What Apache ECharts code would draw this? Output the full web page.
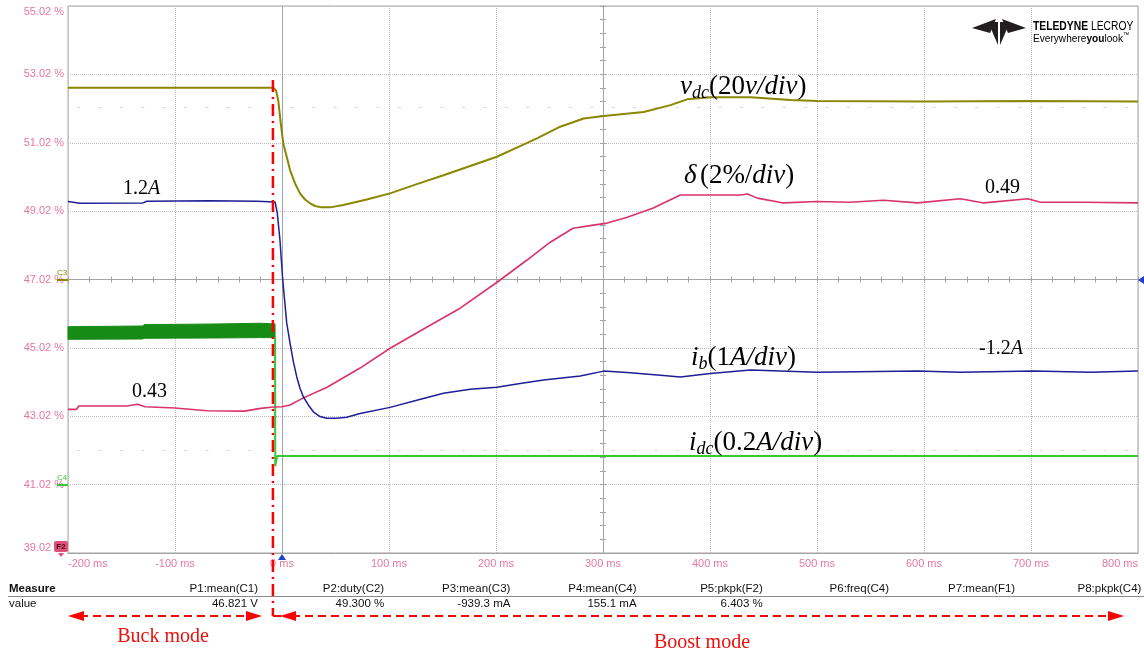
<!DOCTYPE html>
<html><head><meta charset="utf-8">
<script src="https://cdn.jsdelivr.net/npm/echarts@6/dist/echarts.min.js"></script>
<style>html,body{margin:0;padding:0;background:#fff}#c{width:1144px;height:654px}</style>
</head><body><div id="c"></div>
<script>
// ---- tick labels ----
const xTickLabels = ['-200 ms','-100 ms','0 ms','100 ms','200 ms','300 ms','400 ms','500 ms','600 ms','700 ms','800 ms'];
const yTickLabels = ['39.02 %','41.02 %','43.02 %','45.02 %','47.02 %','49.02 %','51.02 %','53.02 %','55.02 %'];

// ---- v_dc trace (time ms, screen %) ----
const vdcT = [-200,-8.1,-5.6,-3.5,-1.2,1.2,4.4,7.5,12.2,16.8,21.5,26.2,30.9,37.1,44.9,57.3,79.2,101,126,150.9,175.9,200.8,219.5,238.3,260,281.9,300.6,338,363,378.6,400.4,437.8,475.2,500.5,600,700,800];
const vdcV = [52.63,52.63,52.55,52.26,51.60,51.00,50.61,50.22,49.83,49.54,49.36,49.25,49.17,49.13,49.13,49.20,49.36,49.54,49.81,50.07,50.34,50.61,50.88,51.15,51.49,51.73,51.80,51.92,52.12,52.29,52.35,52.35,52.27,52.24,52.23,52.24,52.23];

// ---- duty ratio delta trace ----
const deltaT = [-200,-192,-190,-145,-135,-128,-100,-70,-35,-20,-8,0,7.5,19.6,42.1,73,101,135.6,166.5,201,229,250.7,272,291,304,322.7,347,372.3,400.4,428.4,435,444.3,468.7,500,531,562,594,634,656,697,709,749,800];
const deltaV = [43.22,43.22,43.32,43.32,43.37,43.30,43.26,43.18,43.17,43.25,43.29,43.30,43.35,43.55,43.87,44.43,45.01,45.63,46.18,46.94,47.59,48.11,48.52,48.61,48.67,48.84,49.11,49.49,49.49,49.49,49.52,49.40,49.26,49.30,49.28,49.34,49.26,49.38,49.26,49.38,49.28,49.28,49.26];

// ---- i_b trace ----
const ibT = [-200,-189,-130,-126.3,-67.4,-23.4,-6.5,-4.4,-1.9,0.7,4.4,7.5,10.6,13.8,16.8,19.9,24.6,29.3,35.5,41.8,51.2,60.5,73,101,126,150.9,175.9,200.8,222.6,244.4,278.8,300.6,322.4,353.6,372.3,400.4,437.8,500.5,594,634,702.5,755.8,800];
const ibV = [49.30,49.25,49.26,49.31,49.32,49.31,49.29,48.96,48.17,47.00,45.75,45.16,44.62,44.17,43.84,43.59,43.35,43.15,43.01,42.96,42.96,42.99,43.10,43.28,43.49,43.69,43.81,43.87,43.98,44.08,44.20,44.34,44.30,44.22,44.17,44.27,44.37,44.31,44.34,44.31,44.34,44.31,44.34];

// ---- i_dc trace: buck-mode ripple envelope, then boost-mode line ----
const idcBandT = [-200,-130,-129,-60,-20,-6.5];
const idcBandLow = [45.27,45.28,45.30,45.31,45.32,45.32];
const idcBandHigh = [45.64,45.66,45.70,45.72,45.74,45.72];
const idcT = [-6.5,-6.3,-4.5,800];
const idcV = [45.32,41.56,41.86,41.86];

// ---- reference-level dotted rows (screen %) ----
const refRows = [52.06, 42.03];
// ---- mode change instant (ms) ----
const modeChangeT = -8.5;

// ---- measurement table ----
const measureNames = ['P1:mean(C1)','P2:duty(C2)','P3:mean(C3)','P4:mean(C4)','P5:pkpk(F2)','P6:freq(C4)','P7:mean(F1)','P8:pkpk(C4)'];
const measureValues = ['46.821 V','49.300 %','-939.3 mA','155.1 mA','6.403 %','','',''];

const toDiv = v => (v - 39.02) / 2;
const pts = (T, V) => T.map((t, i) => [t, toDiv(V[i])]);

const PINK = '#e6799d';
const GRIDC = '#bdbdbd';
const AXC = '#a4a4a4';
const SANS = 'Liberation Sans, Arial, sans-serif';
const SERIF = 'Liberation Serif, Times New Roman, serif';

const chart = echarts.init(document.getElementById('c'));

const centerX = {type:'value', min:-200, max:800, interval:20, position:'bottom', offset:-273.5,
  axisLine:{show:true, lineStyle:{color:AXC, width:1}}, axisLabel:{show:false}, splitLine:{show:false}};
const centerY = {type:'value', min:0, max:8, interval:0.2, position:'left', offset:-535,
  axisLine:{show:true, lineStyle:{color:AXC, width:1}}, axisLabel:{show:false}, splitLine:{show:false}};

const option = {
  animation:false,
  backgroundColor:'#ffffff',
  grid:{left:68, right:6, top:6, bottom:101, show:true, borderColor:AXC, borderWidth:1},
  xAxis:[
    {type:'value', min:-200, max:800, interval:100,
      axisLine:{lineStyle:{color:AXC}}, axisTick:{show:false},
      splitLine:{show:true, lineStyle:{color:GRIDC, type:'dotted'}},
      axisLabel:{color:PINK, fontSize:11, fontFamily:SANS, margin:5,
        alignMinLabel:'left', alignMaxLabel:'right',
        formatter:v => xTickLabels[Math.round((v + 200) / 100)]}},
    Object.assign({}, centerX, {axisTick:{show:true, inside:false, length:3, lineStyle:{color:AXC}}}),
    Object.assign({}, centerX, {axisTick:{show:true, inside:true, length:3, lineStyle:{color:AXC}}})
  ],
  yAxis:[
    {type:'value', min:0, max:8, interval:1,
      axisLine:{show:true, lineStyle:{color:AXC}}, axisTick:{show:false},
      splitLine:{show:true, lineStyle:{color:GRIDC, type:'dotted'}},
      axisLabel:{color:PINK, fontSize:11, fontFamily:SANS, margin:4,
        verticalAlignMaxLabel:'top', verticalAlignMinLabel:'bottom',
        formatter:v => yTickLabels[Math.round(v)]}},
    Object.assign({}, centerY, {axisTick:{show:true, inside:false, length:3, lineStyle:{color:AXC}}}),
    Object.assign({}, centerY, {axisTick:{show:true, inside:true, length:3, lineStyle:{color:AXC}}})
  ],
  series:[
    {name:'idcBand', type:'custom', data:[[0, 0]], silent:true, z:3,
      renderItem:(params, api) => {
        const top = idcBandT.map((t, i) => api.coord([t, toDiv(idcBandHigh[i])]));
        const bot = idcBandT.map((t, i) => api.coord([t, toDiv(idcBandLow[i])])).reverse();
        return {type:'polygon', shape:{points:top.concat(bot)}, style:{fill:'#168c16', stroke:'#168c16', lineWidth:1}};
      }},
    {name:'idc', type:'line', data:pts(idcT, idcV), symbol:'none',
      lineStyle:{width:2, color:'#36c836'}, z:3,
      markLine:{silent:true, symbol:'none', label:{show:false},
        lineStyle:{color:'#d6d6d6', width:1, type:[3,18.38], dashOffset:-9.2},
        data:refRows.map(r => ({yAxis:toDiv(r)}))}},
    {name:'delta', type:'line', data:pts(deltaT, deltaV), symbol:'none',
      lineStyle:{width:1.6, color:'#d8336a'}, z:4},
    {name:'ib', type:'line', data:pts(ibT, ibV), symbol:'none',
      lineStyle:{width:1.5, color:'#1e1e96'}, z:5},
    {name:'vdc', type:'line', data:pts(vdcT, vdcV), symbol:'none',
      lineStyle:{width:2, color:'#8a8700'}, z:6}
  ]
};
chart.setOption(option);

// ----- annotations (graphic) -----
const px = chart.convertToPixel({xAxisIndex:0}, modeChangeT);
const RED = '#ff0000';
const G = [];
const txt = (x, y, text, opts) => G.push(Object.assign({type:'text', x:x, y:y, z:100,
  style:Object.assign({text:text, fill:'#111', font:'11px ' + SANS, align:'left', verticalAlign:'middle',
    textAlign:'left', textVerticalAlign:'middle'}, opts || {})}));

// measure table
txt(9, 589, 'Measure', {font:'bold 11.5px ' + SANS});
txt(9, 604, 'value', {font:'11.5px ' + SANS});
G.push({type:'line', z:100, shape:{x1:8, y1:596.5, x2:1144, y2:596.5}, style:{stroke:'#8a8a8a', lineWidth:1}});
measureNames.forEach((n, i) => {
  const xr = 258 + i * 126.2;
  txt(xr, 589, n, {align:'right', textAlign:'right', font:'11.5px ' + SANS});
  if (measureValues[i]) txt(xr, 604, measureValues[i], {align:'right', textAlign:'right', font:'11.5px ' + SANS});
});

// mode arrows
const AY = 616;
G.push({type:'line', z:110, shape:{x1:px, y1:80, x2:px, y2:AY}, style:{stroke:RED, lineWidth:2.5, lineDash:[12,5,2,5]}});
G.push({type:'line', z:110, shape:{x1:px, y1:AY, x2:281, y2:AY}, style:{stroke:RED, lineWidth:2}});
const arrow = (x1, x2) => {
  G.push({type:'line', z:110, shape:{x1:x1 + 12, y1:AY, x2:x2 - 12, y2:AY}, style:{stroke:RED, lineWidth:2, lineDash:[8,5]}});
  G.push({type:'polygon', z:110, shape:{points:[[x1, AY], [x1 + 16, AY - 5], [x1 + 16, AY + 5]]}, style:{fill:RED}});
  G.push({type:'polygon', z:110, shape:{points:[[x2, AY], [x2 - 16, AY - 5], [x2 - 16, AY + 5]]}, style:{fill:RED}});
};
arrow(68, 262);
arrow(280, 1124);
txt(163, 637, 'Buck mode', {fill:'#e8120e', font:'20px ' + SERIF, align:'center', textAlign:'center'});
txt(702, 643, 'Boost mode', {fill:'#e8120e', font:'20px ' + SERIF, align:'center', textAlign:'center'});

// trace annotations
const rich = {
  i:{fontFamily:SERIF, fontStyle:'italic', fontSize:27, lineHeight:31, color:'#111'},
  n:{fontFamily:SERIF, fontSize:27, lineHeight:31, color:'#111'},
  s:{fontFamily:SERIF, fontStyle:'italic', fontSize:18, lineHeight:13, verticalAlign:'bottom', color:'#111'},
  i2:{fontFamily:SERIF, fontStyle:'italic', fontSize:20, lineHeight:24, color:'#111'},
  n2:{fontFamily:SERIF, fontSize:20, lineHeight:24, color:'#111'}
};
const rtxt = (x, y, text) => G.push({type:'text', x:x, y:y, z:100,
  style:{text:text, rich:rich, align:'left', verticalAlign:'middle', textAlign:'left', textVerticalAlign:'middle'}});
rtxt(680, 87, '{i|v}{s|dc}{n|(20}{i|v/div}{n|)}');
rtxt(684, 176, '{i|δ} {n|(2%/}{i|div}{n|)}');
rtxt(691, 358, '{i|i}{s|b}{n|(1}{i|A/div}{n|)}');
rtxt(689, 443, '{i|i}{s|dc}{n|(0.2}{i|A/div}{n|)}');
rtxt(123, 189, '{n2|1.2}{i2|A}');
rtxt(132, 392, '{n2|0.43}');
rtxt(985, 188, '{n2|0.49}');
rtxt(979, 349, '{n2|-1.2}{i2|A}');

// channel markers
txt(57, 273, 'C3', {fill:'#8a8700', font:'8px ' + SANS});
G.push({type:'line', z:100, shape:{x1:57, y1:280, x2:68, y2:280}, style:{stroke:'#8a8700', lineWidth:2}});
txt(57, 478, 'C4', {fill:'#36c836', font:'8px ' + SANS});
G.push({type:'line', z:100, shape:{x1:57, y1:485, x2:68, y2:485}, style:{stroke:'#36c836', lineWidth:2}});
G.push({type:'rect', z:100, shape:{x:54, y:541, width:14, height:11, r:2}, style:{fill:'#e0507a'}});
txt(61, 546.5, 'F2', {fill:'#3a0012', font:'bold 8px ' + SANS, align:'center', textAlign:'center'});
G.push({type:'polygon', z:100, shape:{points:[[58,553],[64,553],[61,557]]}, style:{fill:'#e0507a'}});
G.push({type:'polygon', z:100, shape:{points:[[1138,280],[1144,276],[1144,284]]}, style:{fill:'#1a3cd0'}});
const trigX = chart.convertToPixel({xAxisIndex:0}, 0);
G.push({type:'polygon', z:100, shape:{points:[[trigX,554],[trigX - 4,560],[trigX + 4,560]]}, style:{fill:'#2040d0'}});

// logo
const LC = '#231f20';
G.push({type:'polygon', z:100, shape:{points:[[972,28],[996,19],[990,33]]}, style:{fill:LC}});
G.push({type:'polygon', z:100, shape:{points:[[1026,28],[1002,19],[1008,33]]}, style:{fill:LC}});
G.push({type:'polygon', z:100, shape:{points:[[988,22],[998,22],[998,45]]}, style:{fill:LC}});
G.push({type:'polygon', z:100, shape:{points:[[1010,22],[1000,22],[1000,45]]}, style:{fill:LC}});
G.push({type:'text', x:1033, y:27, z:100, scaleX:0.86, style:{
  text:'{b|TELEDYNE} {r|LECROY}', verticalAlign:'middle', textVerticalAlign:'middle',
  rich:{b:{font:'bold 12px Liberation Sans, Arial', color:LC},
        r:{font:'12px Liberation Sans, Arial', color:LC}}}});
G.push({type:'text', x:1033, y:39, z:100, scaleX:0.88, style:{
  text:'{r|Everywhere}{b|you}{r|look}{t|™}', verticalAlign:'middle', textVerticalAlign:'middle',
  rich:{b:{font:'bold 11.5px Liberation Sans, Arial', color:LC},
        r:{font:'11.5px Liberation Sans, Arial', color:'#444'},
        t:{font:'7px Liberation Sans', color:'#444', verticalAlign:'top', lineHeight:14}}}});

chart.setOption({graphic:G});
</script>
</body></html>
